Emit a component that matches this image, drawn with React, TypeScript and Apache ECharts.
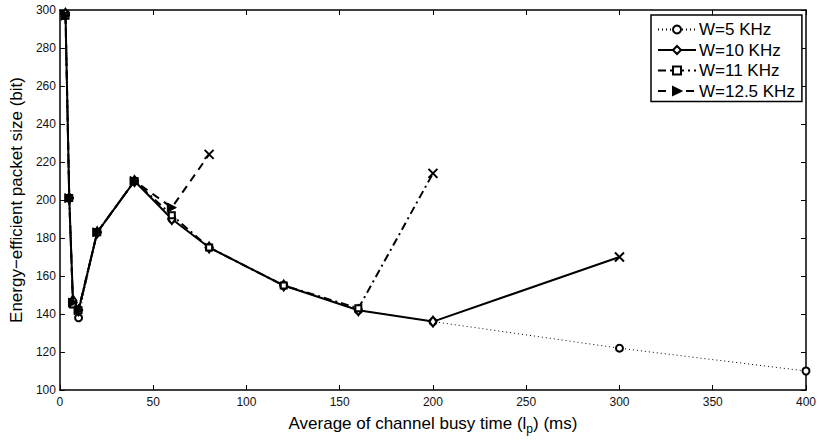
import React, { useEffect, useRef } from "react";
import * as echarts from "echarts";

// Average channel busy time l_p (ms)
const busyTime = [3, 5, 7, 10, 20, 40, 60, 80, 120, 160, 200, 300, 400];

// Energy-efficient packet size (bit) per bandwidth; the last point of the
// 10, 11 and 12.5 KHz curves is drawn with a cross marker
const w5 = [298, 201, 146, 138, 183, 210, 190, 175, 155, 142, 136, 122, 110];
const w10 = [298, 201, 147, 142, 183, 210, 190, 175, 155, 142, 136, 170];
const w11 = [297, 201, 145, 142, 183, 210, 192, 175, 155, 143, 214];
const w125 = [297, 201, 146, 142, 183, 210, 196, 224];

const seriesNames = ["W=5 KHz", "W=10 KHz", "W=11 KHz", "W=12.5 KHz"];

const xTicks = { min: 0, max: 400, interval: 50 };
const yTicks = { min: 100, max: 300, interval: 20 };

const CROSS = "path://M0,0L10,10M10,0L0,10";

function toPoints(values: number[], crossAtEnd: boolean) {
  return values.map((v, i) => {
    const pt: any = { value: [busyTime[i], v] };
    if (crossAtEnd && i === values.length - 1) {
      pt.symbol = CROSS;
      pt.symbolSize = 9;
      pt.symbolRotate = 0;
      pt.itemStyle = { color: "#000", borderColor: "#000", borderWidth: 2 };
    }
    return pt;
  });
}

export default function App() {
  const ref = useRef<HTMLDivElement>(null);

  useEffect(() => {
    if (!ref.current) return;
    const chart = echarts.init(ref.current, null, { renderer: "svg" });
    const font = "'Liberation Sans', Arial, Helvetica, sans-serif";
    const marker = { color: "#fff", borderColor: "#000", borderWidth: 2 };

    const axisCommon = {
      axisLine: { show: true, onZero: false, lineStyle: { color: "#000", width: 1.5 } },
      axisTick: { show: true, inside: true, length: 5, lineStyle: { color: "#000", width: 1 } },
      splitLine: { show: false },
    };

    chart.setOption({
      animation: false,
      backgroundColor: "#fff",
      textStyle: { fontFamily: font },
      grid: { left: 56, right: 9, top: 10, bottom: 47, containLabel: false },
      legend: {
        data: seriesNames,
        orient: "vertical",
        left: 651,
        top: 15,
        itemWidth: 38,
        itemHeight: 10,
        itemGap: 3.5,
        padding: [6, 7, 2, 6],
        backgroundColor: "#fff",
        borderColor: "#000",
        borderWidth: 1.5,
        borderRadius: 0,
        textStyle: {
          fontSize: 17,
          lineHeight: 17,
          color: "#000",
          fontFamily: font,
          padding: [0, 0, 0, -2],
        },
      },
      xAxis: [
        {
          type: "value",
          ...xTicks,
          position: "bottom",
          ...axisCommon,
          axisLabel: { color: "#111", fontSize: 12, margin: 6, fontFamily: font },
          name: "Average of channel busy time (l{sub|p}) (ms)",
          nameLocation: "middle",
          nameGap: 21,
          nameTextStyle: {
            fontSize: 17,
            color: "#000",
            fontFamily: font,
            rich: { sub: { fontSize: 12, verticalAlign: "bottom", padding: [12, 0, 0, 0], color: "#000" } },
          },
        },
        {
          type: "value",
          ...xTicks,
          position: "top",
          ...axisCommon,
          axisLabel: { show: false },
        },
      ],
      yAxis: [
        {
          type: "value",
          ...yTicks,
          position: "left",
          ...axisCommon,
          axisLabel: { color: "#111", fontSize: 12, margin: 4, fontFamily: font },
          name: "Energy\u2212efficient packet size (bit)",
          nameLocation: "middle",
          nameGap: 29,
          nameTextStyle: { fontSize: 17, color: "#000", fontFamily: font },
        },
        {
          type: "value",
          ...yTicks,
          position: "right",
          ...axisCommon,
          axisLabel: { show: false },
        },
      ],
      series: [
        {
          name: seriesNames[0],
          type: "line",
          data: toPoints(w5, false),
          symbol: "circle",
          symbolSize: 7,
          itemStyle: marker,
          lineStyle: { color: "#000", width: 1, type: [1, 3] },
          z: 2,
        },
        {
          name: seriesNames[1],
          type: "line",
          data: toPoints(w10, true),
          symbol: "diamond",
          symbolSize: [7, 10],
          itemStyle: marker,
          lineStyle: { color: "#000", width: 2, type: "solid" },
          z: 3,
        },
        {
          name: seriesNames[2],
          type: "line",
          data: toPoints(w11, true),
          symbol: "rect",
          symbolSize: 6,
          itemStyle: marker,
          lineStyle: { color: "#000", width: 2, type: [8, 4, 2, 4] },
          z: 4,
        },
        {
          name: seriesNames[3],
          type: "line",
          data: toPoints(w125, true),
          symbol: "triangle",
          symbolRotate: -90,
          symbolSize: 9,
          itemStyle: { color: "#000", borderColor: "#000", borderWidth: 1 },
          lineStyle: { color: "#000", width: 2, type: [8, 6] },
          z: 5,
        },
      ],
    });

    return () => chart.dispose();
  }, []);

  return (
    <div
      ref={ref}
      style={{ position: "fixed", left: 0, top: 0, width: 819, height: 440, background: "#fff" }}
    />
  );
}
